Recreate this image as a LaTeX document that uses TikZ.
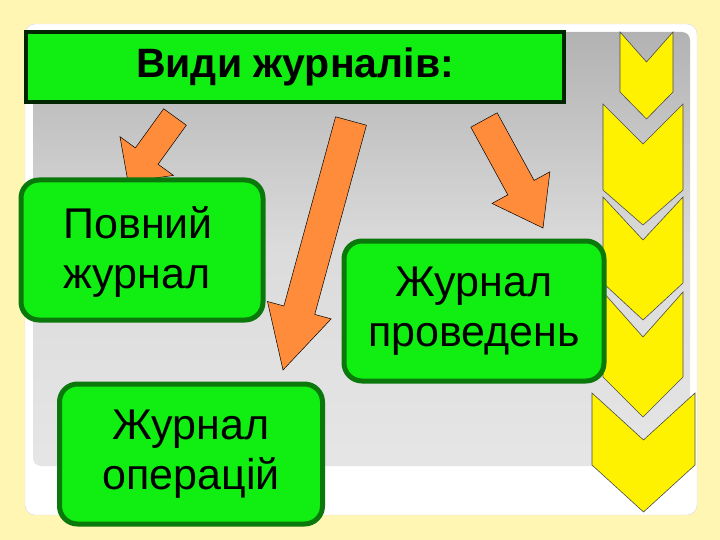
\documentclass[tikz,border=0pt]{standalone}
\usepackage{fontspec}
\setmainfont{Liberation Sans}
\usetikzlibrary{calc}
\definecolor{bgy}{HTML}{FFF6B4}
\definecolor{boxg}{HTML}{11EE11}
\definecolor{boxb}{HTML}{0B780B}
\definecolor{arr}{HTML}{FF8C3A}
\tikzset{
  gbox/.style={draw=boxb,line width=5pt,fill=boxg,rounded corners=18pt},
  btxt/.style={font=\fontsize{43}{50}\selectfont,align=center},
  chev/.style={draw=black!70,line width=0.6pt,fill=yellow},
  barrow/.style={draw=black,line width=0.5pt,fill=arr}
}
\newcommand{\mychev}[6]{\pgfmathsetmacro{\xm}{(#1+#2)/2}%
  \draw[chev] (#1,#3)--(\xm,#4)--(#2,#3)--(#2,#5)--(\xm,#6)--(#1,#5)--cycle;}
\newcommand{\myarrow}[5]{% start end halfshaft halfhead headlen
  \coordinate (A) at #1; \coordinate (B) at #2;
  \coordinate (H) at ($(B)!#5!(A)$);
  \draw[barrow] ($(A)!#3!90:(B)$) -- ($(H)!#3!90:(B)$) -- ($(H)!#4!90:(B)$) -- (B)
    -- ($(H)!#4!-90:(B)$) -- ($(H)!#3!-90:(B)$) -- ($(A)!#3!-90:(B)$) -- cycle;}
\begin{document}
\begin{tikzpicture}[x=1pt,y=-1pt]
\useasboundingbox (0,0) rectangle (720,540);
\fill[bgy] (0,0) rectangle (720,540);
% panel
\fill[white,rounded corners=10pt,draw=black!15] (25,24) rectangle (697,515);
\shade[top color=black!30,bottom color=black!10,middle color=black!14,rounded corners=8pt] (33,32) rectangle (690,466);
% chevrons
\mychev{620}{673}{32}{62}{92}{119}
\mychev{603}{683}{104}{144}{190}{225}
\mychev{603}{683}{197}{240}{283}{320}
\mychev{603}{683}{292}{337}{377}{417}
\mychev{592}{695}{393}{440}{465}{512}
% arrows
\myarrow{(175,117)}{(128,182)}{14pt}{33pt}{32pt}
\myarrow{(351,121)}{(283,370)}{16pt}{33pt}{62pt}
\myarrow{(484,120)}{(543,228)}{15pt}{33pt}{46pt}
% title
\node[draw=black!85!green,line width=4pt,fill=boxg,minimum width=538pt,minimum height=70pt,
  font=\fontsize{41}{46}\selectfont\bfseries] (title) at (295,67) {Види журналів:};
% boxes
\node[gbox,minimum width=242pt,minimum height=140pt] (b1) at (142,250) {};
\node[btxt,align=left,anchor=west] (t1) at (60,252) {Повний\\журнал};
\node[gbox,minimum width=260pt,minimum height=140pt,btxt] (b2) at (474,311) {Журнал\\проведень};
\node[gbox,minimum width=263pt,minimum height=140pt,btxt] (b3) at (191,454) {Журнал\\операцій};
\end{tikzpicture}
\end{document}
